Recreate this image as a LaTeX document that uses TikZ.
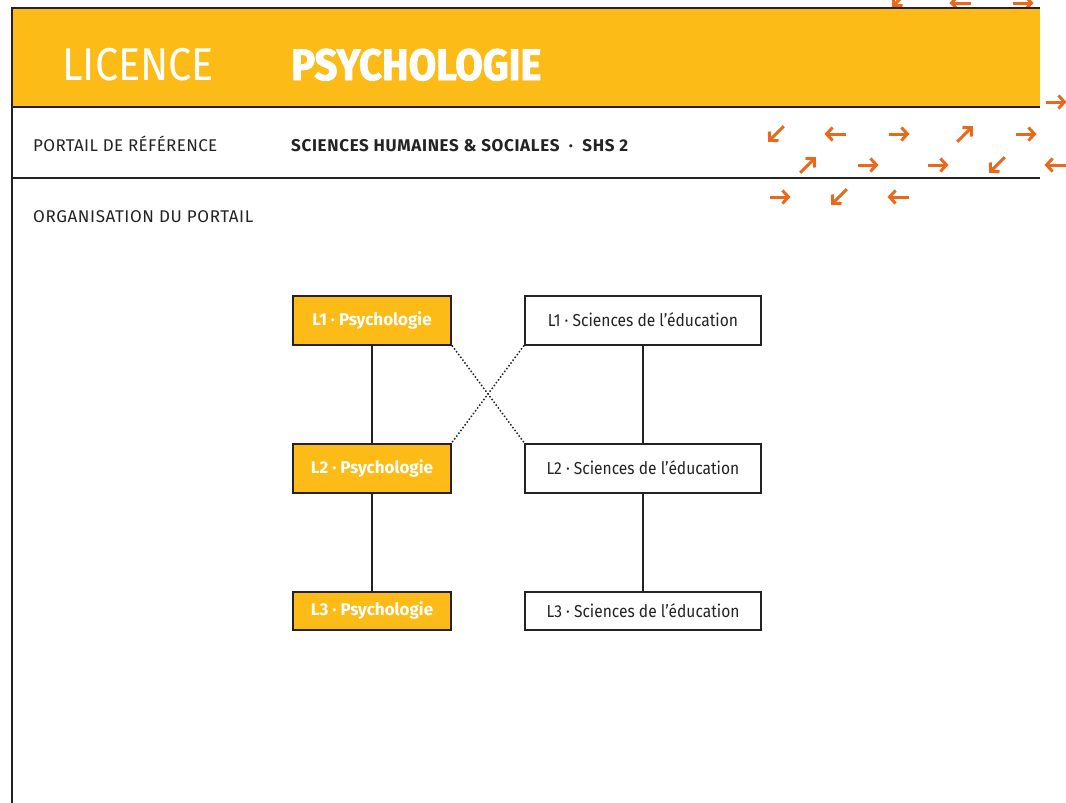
\documentclass[tikz,border=0pt]{standalone}
\usepackage{fontspec}
\setmainfont{Fira Sans}
\newfontfamily\lightfont{Fira Sans}
\newfontfamily\narrowfont{Fira Sans}[FakeStretch=0.9]
\newfontfamily\heavyfont{Fira Sans}[BoldFeatures={FakeBold=2, FakeStretch=0.91}]
\usetikzlibrary{positioning, arrows.meta}

\begin{document}
\begin{tikzpicture}[
        x=1pt, y=-1pt,
        % Horizontal gap between the columns, vertical gap between the years
        node distance=97pt and 72pt,
        font=\lightfont
    ]
        % Define custom colors matching the leaflet
        \definecolor{licyellow}{RGB}{252,187,22}
        \definecolor{licorange}{RGB}{232,104,28}
        \definecolor{licgray}{RGB}{35,35,35}

        % Define node styles
        \tikzstyle{year}=[
            draw=licgray,
            line width=2pt,
            inner sep=0pt,
            minimum height=49pt,
            font=\narrowfont\fontsize{17.3}{20}\selectfont
        ]
        \tikzstyle{psybox}=[year, fill=licyellow, text=white, minimum width=158pt, font=\lightfont\bfseries\fontsize{17}{20}\selectfont]
        \tikzstyle{edubox}=[year, fill=white, text=licgray, minimum width=236pt]
        \tikzstyle{link}=[licgray, line width=1.5pt]
        \tikzstyle{cross}=[licgray, line width=1.5pt, dotted]
        \tikzstyle{deco}=[licorange, line width=3pt, -{Straight Barb[length=6pt, width=13pt]}]

        \useasboundingbox (0,0) rectangle (1066,803);

        % --- Orange arrows (drawn first, the band covers them) ---
        \foreach \x/\y/\a/\r in {900/-1/135/11, 960/3/180/10.5, 1023/3/0/10.5,
                1056/102/0/10.5,
                776/134/135/11, 835/134/180/10.5, 899/134/0/10.5, 965/134/-45/11, 1026/134/0/10.5,
                808/165/-45/11, 868/165/0/10.5, 938/165/0/10.5, 997/165/135/11, 1055/165/180/10.5,
                780/197/0/10.5, 839/197/135/11, 898/197/180/10.5}
            \draw[deco] (\x,\y) ++(\a+180:\r) -- ++(\a:2*\r);

        % --- Header band ---
        \fill[licyellow] (12,8) rectangle (1040,107);
        \draw[licgray, line width=2pt] (1040,8) -- (12,8) -- (12,803);
        \draw[licgray, line width=2pt] (12,107) -- (1040,107);
        \draw[licgray, line width=2pt] (12,178) -- (1040,178);

        \node[anchor=base west, text=white, inner sep=0pt, font=\narrowfont\fontsize{46}{50}\selectfont] (licence) at (62,80) {LICENCE};
        \node[anchor=base west, text=white, inner sep=0pt, font=\heavyfont\bfseries\fontsize{44}{48}\selectfont] (title) at (291,80) {PSYCHOLOGIE};
        \node[anchor=base west, text=licgray, inner sep=0pt, font=\lightfont\fontsize{17}{20}\selectfont\addfontfeatures{LetterSpace=2}] (portail) at (33,151) {PORTAIL DE RÉFÉRENCE};
        \node[anchor=base west, text=licgray, inner sep=0pt, font=\lightfont\bfseries\fontsize{17}{20}\selectfont\addfontfeatures{LetterSpace=4}] (shs) at (291,151) {SCIENCES HUMAINES \& SOCIALES~~·~~SHS 2};
        \node[anchor=base west, text=licgray, inner sep=0pt, font=\lightfont\fontsize{17}{20}\selectfont\addfontfeatures{LetterSpace=3.5}] (orga) at (33,222) {ORGANISATION DU PORTAIL};

        % --- Left column (Psychologie) ---
        \node[psybox] (psyA) at (372,320) {L1~·~Psychologie};
        \node[psybox, below=of psyA] (psyB) {L2~·~Psychologie};
        \node[psybox, below=of psyB, minimum height=38pt] (psyC) {L3~·~Psychologie};

        % --- Right column (Sciences de l'education) ---
        \node[edubox] (eduA) at (643,320) {L1~·~Sciences de l’éducation};
        \node[edubox, below=of eduA] (eduB) {L2~·~Sciences de l’éducation};
        \node[edubox, below=of eduB, minimum height=38pt] (eduC) {L3~·~Sciences de l’éducation};

        % --- Connections ---
        \draw[link] (psyA) -- (psyB);
        \draw[link] (psyB) -- (psyC);
        \draw[link] (eduA) -- (eduB);
        \draw[link] (eduB) -- (eduC);
        \draw[cross] (psyA.south east) -- (eduB.north west);
        \draw[cross] (eduA.south west) -- (psyB.north east);

    \end{tikzpicture}
\end{document}
